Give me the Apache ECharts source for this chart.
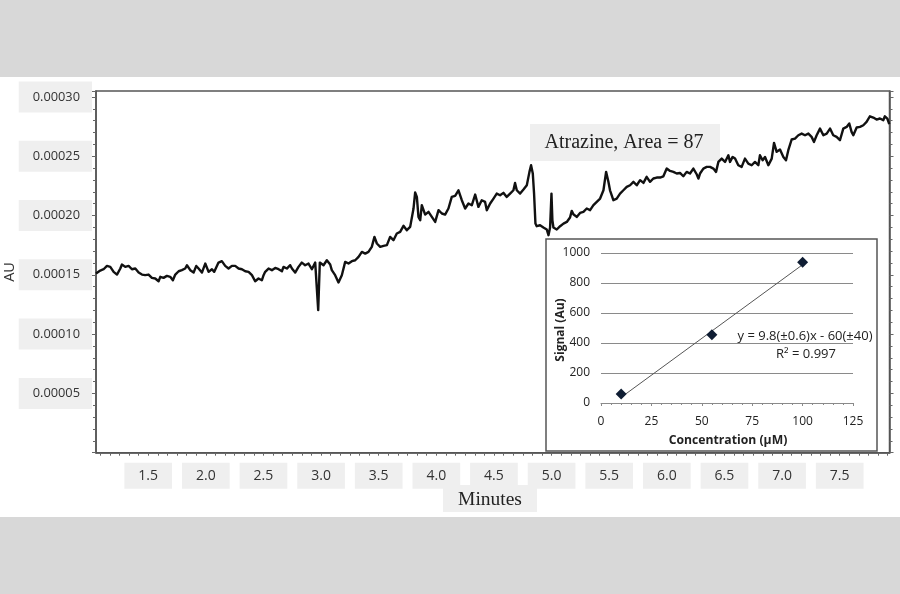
<!DOCTYPE html>
<html>
<head>
<meta charset="utf-8">
<script src="https://cdn.jsdelivr.net/npm/echarts@6/dist/echarts.min.js"></script>
<style>
html,body{margin:0;padding:0;background:#d8d8d8;}
#band{position:absolute;left:0;top:77px;width:900px;height:440px;background:#ffffff;}
#chart{position:absolute;left:0;top:0;width:900px;height:594px;}
</style>
</head>
<body>
<div id="band"></div>
<div id="chart"></div>
<script>
// Chromatogram: time (minutes) and absorbance (in units of 1e-5 AU)
const timeMin = [
1.047,1.055,1.084,1.113,1.142,1.171,1.200,1.229,1.258,1.272,1.301,1.330,1.359,1.388,1.417,1.446,1.474,1.503,1.532,1.561,1.590,1.605,1.633,1.662,1.691,1.714,1.735,1.764,1.792,1.821,1.836,1.865,1.894,1.917,1.937,1.966,1.995,2.024,2.053,2.073,2.110,2.139,2.168,2.197,2.226,2.255,2.284,2.313,2.342,2.371,2.400,2.428,2.457,2.486,2.501,2.515,2.544,2.573,2.602,2.631,2.660,2.674,2.703,2.732,
2.747,2.775,2.804,2.833,2.862,2.891,2.920,2.949,2.966,2.975,2.981,2.989,3.021,3.050,3.079,3.093,3.122,3.151,3.180,3.209,3.238,3.267,3.296,3.325,3.354,3.383,3.411,3.440,3.463,3.484,3.513,3.542,3.571,3.599,3.628,3.657,3.686,3.715,3.744,3.773,3.802,3.816,3.831,3.845,3.860,3.874,3.903,3.932,3.961,3.990,4.019,4.048,4.076,4.105,4.134,4.163,4.192,4.221,4.250,4.279,4.308,4.337,4.365,4.394,4.423,
4.438,4.452,4.467,4.496,4.524,4.553,4.582,4.611,4.640,4.669,4.683,4.698,4.727,4.756,4.785,4.808,4.822,4.837,4.848,4.860,4.871,4.900,4.929,4.958,4.973,4.987,4.999,5.007,5.016,5.045,5.074,5.103,5.132,5.160,5.175,5.189,5.218,5.247,5.276,5.305,5.334,5.363,5.392,5.421,5.450,5.473,5.493,5.507,5.536,5.565,5.594,5.623,5.652,5.681,5.710,5.739,5.768,5.797,5.825,5.854,5.883,5.912,5.941,5.970,5.999,6.028,6.057,6.086,6.114,6.143,6.172,6.201,
6.230,6.259,6.274,6.288,6.317,6.346,6.375,6.404,6.427,6.447,6.476,6.505,6.534,6.548,6.571,6.592,6.620,6.649,6.678,6.707,6.736,6.765,6.794,6.808,6.831,6.852,6.881,6.910,6.930,6.953,6.982,7.011,7.034,7.054,7.083,7.112,7.141,7.170,7.199,7.228,7.256,7.277,7.300,7.329,7.358,7.387,7.416,7.444,7.473,7.502,7.531,7.560,7.583,7.603,7.618,7.647,7.676,7.705,7.733,7.762,7.791,7.820,7.849,7.878,7.892,7.913,7.930
];
const absorbanceE5 = [
15.11,15.19,15.36,15.47,15.75,15.67,15.25,15.02,15.53,15.87,15.67,15.75,15.47,15.53,15.19,15.02,14.97,15.02,14.74,14.69,14.46,14.83,14.74,14.91,14.83,14.54,15.02,15.30,15.39,15.53,15.81,15.39,15.19,15.75,15.53,15.19,15.95,15.25,15.47,15.25,16.03,16.15,15.75,15.53,15.75,15.75,15.53,15.47,15.30,15.25,14.97,14.46,14.69,14.54,14.97,15.25,15.53,15.39,15.58,15.47,15.30,15.67,15.53,15.81,
15.53,15.19,15.67,16.03,15.81,15.95,15.47,16.03,16.15,12.02,11.87,16.03,15.81,16.23,15.87,15.39,14.97,14.35,14.97,16.09,15.95,16.15,16.23,16.51,16.93,16.79,16.93,17.36,18.20,17.64,17.36,17.44,17.50,18.20,17.92,18.48,18.62,19.13,18.76,19.04,20.59,21.94,21.57,19.88,19.60,20.87,20.08,20.31,19.88,19.46,20.45,20.17,20.08,20.59,21.57,21.66,22.13,21.29,20.59,21.01,20.87,21.77,20.73,21.29,21.15,
20.45,20.73,21.01,21.43,21.85,21.71,21.91,21.57,21.85,22.13,22.75,22.13,21.85,22.19,22.55,23.68,24.24,23.54,21.85,19.32,19.10,19.18,18.99,18.82,18.34,18.99,21.85,19.60,18.99,18.82,19.10,19.32,19.46,19.83,20.39,20.11,19.88,20.22,20.31,20.59,20.45,20.87,21.15,21.43,22.13,23.68,22.84,22.13,21.29,21.43,21.85,22.13,22.41,22.55,22.84,22.55,22.98,22.75,23.26,22.84,23.12,23.20,23.20,23.31,23.96,23.76,23.68,23.54,23.59,23.31,23.68,23.54,
23.96,23.48,23.12,23.54,23.96,24.10,24.10,23.96,23.68,24.52,24.80,24.52,25.08,24.52,24.94,24.80,24.24,24.10,24.80,24.38,24.24,24.52,24.24,25.08,24.66,24.94,24.24,24.80,26.12,25.37,25.56,24.94,24.66,25.51,26.41,26.49,26.77,26.91,26.77,26.91,26.63,26.21,26.77,27.33,26.77,26.91,27.33,26.77,26.63,26.35,27.33,27.47,27.76,27.05,26.77,27.42,27.47,27.61,27.89,28.37,28.26,28.09,28.18,28.04,28.37,28.18,27.70
];
const xTickValues = [1.5,2.0,2.5,3.0,3.5,4.0,4.5,5.0,5.5,6.0,6.5,7.0,7.5];
const xTickLabels = ['1.5','2.0','2.5','3.0','3.5','4.0','4.5','5.0','5.5','6.0','6.5','7.0','7.5'];

// Calibration inset
const concentrationUM = [10, 55, 100];
const signalAu = [60, 455, 938];
const trendX = [10, 100];
const trendY = [38, 922];

const X_MIN = 1.047, X_MAX = 7.932;
const minorX = [];
for (let k = Math.ceil(X_MIN * 12); k <= Math.floor(X_MAX * 12); k++) minorX.push(k / 12);

const chart = echarts.init(document.getElementById('chart'), null, {renderer: 'canvas'});
const sans = '"Open Sans", "Liberation Sans", sans-serif';
const serif = '"Liberation Serif", "DejaVu Serif", serif';

const option = {
  animation: false,
  backgroundColor: 'transparent',
  grid: [
    {left: 96, right: 10.5, top: 91, bottom: 141.3, show: true, borderColor: '#555', borderWidth: 1.5, containLabel: false},
    {left: 601, top: 253, width: 252, height: 150, containLabel: false}
  ],
  xAxis: [
    {
      type: 'value', gridIndex: 0, min: X_MIN, max: X_MAX,
      axisLine: {show: true, lineStyle: {color: '#555', width: 1.5}},
      axisTick: {show: true, customValues: minorX, length: 3, lineStyle: {color: '#666'}},
      splitLine: {show: false},
      axisLabel: {
        customValues: xTickValues,
        formatter: function (v) { const i = xTickValues.findIndex(t => Math.abs(t - v) < 1e-6); return i >= 0 ? xTickLabels[i] : ''; },
        fontFamily: sans, fontSize: 14, color: '#333',
        backgroundColor: '#efefef', padding: [6, 14, 6, 14], margin: 10
      }
    },
    {
      type: 'value', gridIndex: 1, min: 0, max: 125, interval: 25,
      axisLine: {show: true, lineStyle: {color: '#8a8a8a', width: 1}},
      axisTick: {show: true, length: 3, lineStyle: {color: '#8a8a8a'}},
      minorTick: {show: true, splitNumber: 5, length: 2, lineStyle: {color: '#8a8a8a'}},
      splitLine: {show: false},
      axisLabel: {fontFamily: sans, fontSize: 12, color: '#222', margin: 13}
    }
  ],
  yAxis: [
    {
      type: 'value', gridIndex: 0, min: 0, max: 30.5, interval: 5,
      axisLine: {show: true, lineStyle: {color: '#555', width: 1.5}},
      axisTick: {show: true, length: 4, lineStyle: {color: '#666'}},
      minorTick: {show: true, splitNumber: 5, length: 3, lineStyle: {color: '#666'}},
      splitLine: {show: false},
      axisLabel: {
        showMinLabel: false, showMaxLabel: false,
        formatter: function (v) { return (v / 1e5).toFixed(5); },
        fontFamily: sans, fontSize: 12.8, color: '#333',
        backgroundColor: '#efefef', padding: [9, 12, 9, 14], margin: 4
      }
    },
    {
      type: 'value', gridIndex: 0, min: 0, max: 30.5, interval: 5, position: 'right',
      axisLine: {show: true, lineStyle: {color: '#555', width: 1.5}},
      axisTick: {show: true, length: 4, lineStyle: {color: '#666'}},
      minorTick: {show: true, splitNumber: 5, length: 3, lineStyle: {color: '#666'}},
      splitLine: {show: false},
      axisLabel: {show: false}
    },
    {
      type: 'value', gridIndex: 1, min: 0, max: 1000, interval: 200,
      axisLine: {show: false}, axisTick: {show: false},
      splitLine: {show: true, lineStyle: {color: '#8a8a8a', width: 1}},
      axisLabel: {fontFamily: sans, fontSize: 12, color: '#222', margin: 11, formatter: function (v) { return String(v); }}
    }
  ],
  series: [
    {
      type: 'line', xAxisIndex: 0, yAxisIndex: 0,
      data: timeMin.map((t, i) => [t, absorbanceE5[i]]),
      showSymbol: false, symbol: 'none',
      lineStyle: {color: '#111', width: 2.4, join: 'round'},
      z: 3
    },
    {
      type: 'line', xAxisIndex: 1, yAxisIndex: 2,
      data: trendX.map((x, i) => [x, trendY[i]]),
      symbol: 'none', lineStyle: {color: '#555', width: 1}, z: 3
    },
    {
      type: 'scatter', xAxisIndex: 1, yAxisIndex: 2,
      data: concentrationUM.map((x, i) => [x, signalAu[i]]),
      symbol: 'diamond', symbolSize: 11,
      itemStyle: {color: '#0f1d33', opacity: 1}, z: 4
    }
  ],
  graphic: [
    {type: 'rect', z: 1, shape: {x: 546, y: 239, width: 331, height: 212},
     style: {fill: 'none', stroke: '#555', lineWidth: 1.5}},
    {type: 'rect', z: 1, shape: {x: 530, y: 124, width: 190, height: 37}, style: {fill: '#efefef'}},
    {type: 'text', z: 2, x: 624, y: 143, style: {text: 'Atrazine, Area = 87', font: '20px ' + serif, fill: '#222', align: 'center', verticalAlign: 'middle'}},
    {type: 'rect', z: 1, shape: {x: 443, y: 485, width: 94, height: 27}, style: {fill: '#efefef'}},
    {type: 'text', z: 2, x: 490, y: 500, style: {text: 'Minutes', font: '19.5px ' + serif, fill: '#222', align: 'center', verticalAlign: 'middle'}},
    {type: 'text', z: 2, x: 10, y: 272, rotation: Math.PI / 2, style: {text: 'AU', font: '14.5px ' + sans, fill: '#333', align: 'center', verticalAlign: 'middle'}},
    {type: 'text', z: 5, x: 805, y: 336, style: {text: 'y = 9.8(±0.6)x - 60(±40)', font: '13px ' + sans, fill: '#222', align: 'center', verticalAlign: 'middle'}},
    {type: 'text', z: 5, x: 806, y: 354, style: {text: 'R² = 0.997', font: '13px ' + sans, fill: '#222', align: 'center', verticalAlign: 'middle'}},
    {type: 'text', z: 5, x: 561, y: 330, rotation: Math.PI / 2, style: {text: 'Signal (Au)', font: 'bold 12px ' + sans, fill: '#222', align: 'center', verticalAlign: 'middle'}},
    {type: 'text', z: 5, x: 728, y: 441, style: {text: 'Concentration (µM)', font: 'bold 12.2px ' + sans, fill: '#222', align: 'center', verticalAlign: 'middle'}}
  ]
};
chart.setOption(option);
</script>
</body>
</html>
